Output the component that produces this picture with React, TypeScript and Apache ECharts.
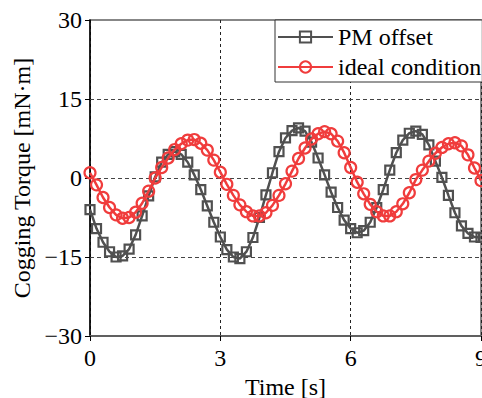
import React, { useEffect, useRef } from "react";
import * as echarts from "echarts";

const times: number[] = [
  0, 0.15, 0.3, 0.45, 0.6, 0.75, 0.9, 1.05, 1.2, 1.35, 1.5, 1.65, 1.8, 1.95, 2.1, 2.25, 2.4, 2.55, 2.7, 2.85,
  3.0, 3.15, 3.3, 3.45, 3.6, 3.75, 3.9, 4.05, 4.2, 4.35, 4.5, 4.65, 4.8, 4.95, 5.1, 5.25, 5.4, 5.55, 5.7, 5.85,
  6.0, 6.15, 6.3, 6.45, 6.6, 6.75, 6.9, 7.05, 7.2, 7.35, 7.5, 7.65, 7.8, 7.95, 8.1, 8.25, 8.4, 8.55, 8.7, 8.85, 9.0,
];

const pmOffset: number[] = [
  -6.0, -9.6, -12.2, -14.0, -15.0, -14.8, -13.5, -10.8, -7.2, -3.4, 0.2, 3.0, 4.5, 5.0, 4.5, 3.0, 0.6, -2.2, -5.3, -8.4,
  -11.2, -13.6, -15.0, -15.3, -14.0, -11.3, -7.5, -3.2, 1.0, 5.0, 7.6, 9.0, 9.5, 8.9, 6.8, 3.8, 0.6, -2.7, -5.6, -8.0,
  -9.6, -10.4, -10.0, -8.4, -5.6, -2.2, 1.5, 4.8, 7.2, 8.5, 8.9, 8.3, 6.3, 3.2, 0.1, -3.3, -6.6, -9.1, -10.5, -11.2, -11.3,
];

const idealCondition: number[] = [
  1.0, -1.3, -3.7, -5.6, -7.0, -7.65, -7.5, -6.5, -4.8, -2.5, 0.0, 2.0, 3.8, 5.4, 6.5, 7.2, 7.3, 6.6, 5.3, 3.4,
  1.1, -1.2, -3.3, -5.1, -6.4, -7.2, -7.2, -6.6, -5.2, -3.3, -1.1, 1.3, 3.7, 5.7, 7.4, 8.4, 8.8, 8.4, 7.0, 4.8,
  2.0, -0.8, -3.0, -5.0, -6.4, -7.2, -7.2, -6.4, -4.9, -2.8, -0.3, 1.5, 3.2, 4.7, 5.8, 6.5, 6.7, 6.1, 4.4, 1.9, -0.5,
];

const seriesNames: string[] = ["PM offset", "ideal condition"];
const xTicks: number[] = [0, 3, 6, 9];
const yTicks: number[] = [-30, -15, 0, 15, 30];

const FONT = "Liberation Serif";
const FS = 24;

export default function App() {
  const ref = useRef<HTMLDivElement>(null);

  useEffect(() => {
    document.body.style.margin = "0";
    document.body.style.overflow = "hidden";
    if (!ref.current) return;
    const chart = echarts.init(ref.current, null, { renderer: "svg" });
    const fmt = (v: number) => (v < 0 ? "\u2212" + Math.abs(v) : String(v));
    const gray = "#505050";
    const red = "#f03c3c";
    const innerY = yTicks.slice(1, yTicks.length - 1);
    const option: any = {
      animation: false,
      backgroundColor: "#ffffff",
      textStyle: { fontFamily: FONT },
      grid: {
        left: 90,
        right: 1,
        top: 20,
        bottom: 62,
        containLabel: false,
        outerBoundsMode: "none",
        show: true,
        borderColor: "#606060",
        borderWidth: 1.5,
        backgroundColor: "transparent",
      },
      legend: {
        orient: "vertical",
        left: 275,
        top: 20,
        padding: [5, 1, 3, 2],
        itemWidth: 55,
        itemHeight: 14,
        itemGap: 6,
        backgroundColor: "#ffffff",
        borderColor: "#333333",
        borderWidth: 1,
        borderRadius: 0,
        textStyle: { fontFamily: FONT, fontSize: FS, lineHeight: 24, color: "#000" },
        data: seriesNames,
      },
      xAxis: {
        type: "value",
        min: xTicks[0],
        max: xTicks[xTicks.length - 1],
        interval: 3,
        name: "Time [s]",
        nameLocation: "middle",
        nameGap: 33,
        nameTextStyle: { fontFamily: FONT, fontSize: FS, color: "#000" },
        axisLine: { show: true, onZero: false, lineStyle: { color: "#606060", width: 2 } },
        axisTick: { show: true, inside: false, length: 5, lineStyle: { color: "#000", width: 1 } },
        axisLabel: { fontFamily: FONT, fontSize: FS, color: "#000", margin: 10, formatter: fmt },
        splitLine: { show: true, lineStyle: { color: "#222", type: [3, 3], width: 1 } },
      },
      yAxis: {
        type: "value",
        min: yTicks[0],
        max: yTicks[yTicks.length - 1],
        interval: 15,
        name: "Cogging Torque [mN\u00b7m]",
        nameLocation: "middle",
        nameGap: 50,
        nameRotate: 90,
        nameTextStyle: { fontFamily: FONT, fontSize: FS, color: "#000" },
        axisLine: { show: true, onZero: false, lineStyle: { color: "#000", width: 1.5 } },
        axisTick: { show: true, inside: false, length: 5, lineStyle: { color: "#000", width: 1 } },
        axisLabel: { fontFamily: FONT, fontSize: FS, color: "#000", margin: 8, formatter: fmt },
        splitLine: { show: false },
      },
      series: [
        {
          name: seriesNames[0],
          type: "line",
          data: times.map((t, i) => [t, pmOffset[i]]),
          symbol: "rect",
          symbolSize: 9,
          showAllSymbol: true,
          lineStyle: { color: gray, width: 2.5 },
          itemStyle: { color: "rgba(255,255,255,0)", borderColor: gray, borderWidth: 2.2 },
          z: 2,
          markLine: {
            silent: true,
            symbol: ["none", "none"],
            label: { show: false },
            lineStyle: { color: "#444", type: [4, 3], width: 1 },
            emphasis: { disabled: true },
            data: innerY.map((v) => ({ yAxis: v })),
            z: 1,
          },
        },
        {
          name: seriesNames[1],
          type: "line",
          data: times.map((t, i) => [t, idealCondition[i]]),
          symbol: "circle",
          symbolSize: 11,
          showAllSymbol: true,
          lineStyle: { color: red, width: 2.5 },
          itemStyle: { color: "rgba(255,255,255,0)", borderColor: red, borderWidth: 2.2 },
          z: 3,
        },
      ],
    };
    chart.setOption(option);
    return () => chart.dispose();
  }, []);

  return (
    <div
      ref={ref}
      style={{ position: "fixed", left: 0, top: 0, width: 482, height: 398 }}
    />
  );
}
